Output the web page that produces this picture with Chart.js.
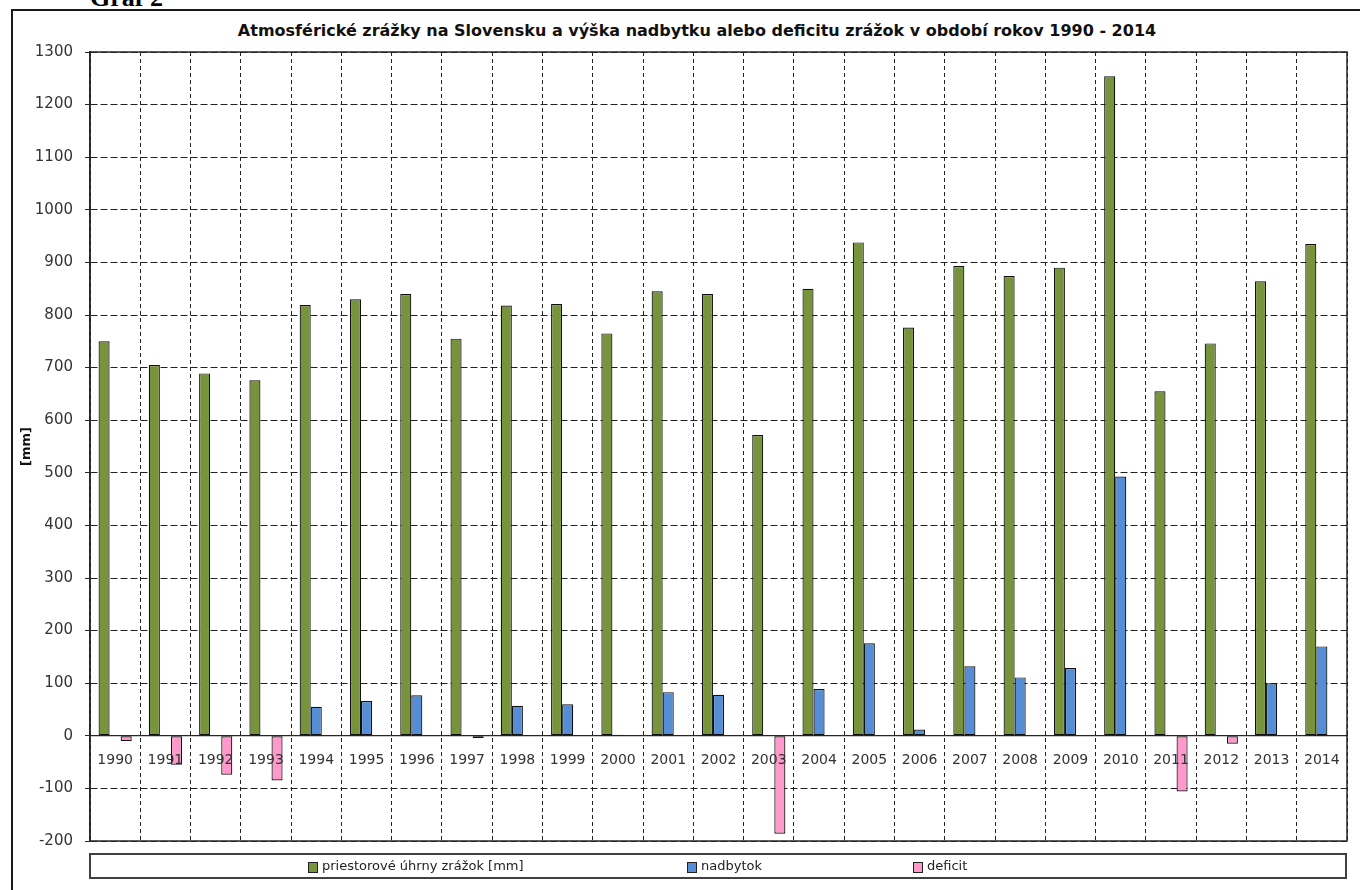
<!DOCTYPE html>
<html lang="sk">
<head>
<meta charset="utf-8">
<title>Atmosférické zrážky na Slovensku 1990 - 2014</title>
<script src="https://cdn.jsdelivr.net/npm/chart.js@4/dist/chart.umd.min.js"></script>
<style>
  html, body { margin: 0; padding: 0; background: #fff; overflow: hidden; }
  body { width: 1360px; height: 890px; position: relative; font-family: "DejaVu Sans", sans-serif; }
  #graf-nadpis { position: absolute; left: 90px; top: -15px; font: bold 26px/26px "Liberation Serif", serif; color: #000; white-space: nowrap; }
  #ram { position: absolute; left: 11px; top: 9px; width: 1400px; height: 1000px; border: 2px solid #1a1a1a; box-sizing: border-box; }
  #nazov { position: absolute; left: 0; top: 21px; width: 1394px; text-align: center; font: bold 16px/19px "DejaVu Sans", sans-serif; color: #111; white-space: nowrap; }
  #wrap { position: absolute; left: 0; top: 0; width: 1360px; height: 890px; }
  #legenda { position: absolute; left: 89px; top: 853px; width: 1258px; height: 26px; border: 2px solid #404040; box-sizing: border-box; }
  .lg-box { position: absolute; width: 8px; height: 9px; border: 1px solid #222; box-sizing: content-box; }
  .lg-text { position: absolute; font: 13px/18px "DejaVu Sans", sans-serif; color: #222; white-space: nowrap; }
</style>
</head>
<body>
<div id="graf-nadpis">Graf 2</div>
<div id="ram"></div>
<div id="nazov">Atmosférické zrážky na Slovensku a výška nadbytku alebo deficitu zrážok v období rokov 1990 - 2014</div>
<div id="wrap"><canvas id="graf"></canvas></div>
<div id="legenda"></div>
<script>
// Roky a hodnoty zrážok v mm
const roky = ['1990','1991','1992','1993','1994','1995','1996','1997','1998','1999','2000','2001','2002','2003','2004','2005','2006','2007','2008','2009','2010','2011','2012','2013','2014'];
const uhrny = [750, 705, 689, 676, 819, 830, 840, 755, 818, 821, 765, 845, 840, 572, 850, 938, 776, 893, 874, 890, 1254, 655, 746, 864, 935];
const nadbytok = [null, null, null, null, 55, 66, 77, null, 57, 60, 2, 83, 78, null, 89, 176, 12, 132, 111, 129, 493, null, null, 100, 170];
const deficit = [-10, -55, -74, -85, null, null, null, -4, null, null, null, null, null, -186, null, null, null, null, null, null, null, -106, -15, null, null];

// Rozsah osi y
const osYMin = -200;
const osYMax = 1300;
const osYKrok = 100;

// Názvy radov
const nazvyRadov = ['priestorové úhrny zrážok [mm]', 'nadbytok', 'deficit'];
const farbyRadov = ['#77933C', '#558ED5', '#FF99CC'];

// Rám okolo plochy grafu
const ramPlochy = {
  id: 'ramPlochy',
  afterDatasetsDraw(chart) {
    const a = chart.chartArea;
    const ctx = chart.ctx;
    ctx.save();
    ctx.strokeStyle = '#262626';
    ctx.lineWidth = 1.5;
    ctx.strokeRect(a.left, a.top, a.right - a.left, a.bottom - a.top);
    ctx.restore();
  }
};

const pismo = '"DejaVu Sans", sans-serif';

const graf = new Chart(document.getElementById('graf'), {
  type: 'bar',
  data: {
    labels: roky,
    datasets: [uhrny, nadbytok, deficit].map((hodnoty, i) => ({
      label: nazvyRadov[i],
      data: hodnoty,
      backgroundColor: farbyRadov[i],
      borderColor: '#111',
      borderWidth: 1.2,
      borderSkipped: false,
      categoryPercentage: 0.66,
      barPercentage: 1.0
    }))
  },
  options: {
    responsive: true,
    maintainAspectRatio: false,
    animation: false,
    layout: { padding: { left: 12, right: 13, top: 52, bottom: 49 } },
    plugins: {
      legend: { display: false },
      title: { display: false },
      tooltip: { enabled: false }
    },
    scales: {
      x: {
        type: 'category',
        position: { y: 0 },
        grid: {
          color: '#222',
          lineWidth: 1,
          offset: true,
          drawTicks: false
        },
        border: { display: true, color: '#262626', width: 1.2, dash: [4, 3] },
        ticks: {
          z: 1,
          padding: 16,
          color: '#333',
          maxRotation: 0,
          autoSkip: false,
          font: { family: pismo, size: 14 }
        }
      },
      y: {
        min: osYMin,
        max: osYMax,
        afterFit(scale) { scale.width = 78; },
        grid: {
          color: '#222',
          lineWidth: 1,
          tickLength: 5,
          tickColor: '#262626',
          tickBorderDash: []
        },
        border: { display: true, color: '#262626', width: 1.5, dash: [7, 3] },
        ticks: {
          stepSize: osYKrok,
          padding: 12,
          color: '#333',
          font: { family: pismo, size: 15 },
          callback: (hodnota) => String(hodnota)
        },
        title: {
          display: true,
          text: '[mm]',
          color: '#111',
          padding: { top: 7, bottom: 0 },
          font: { family: pismo, size: 13, weight: 'bold' }
        }
      }
    }
  },
  plugins: [ramPlochy]
});

// Legenda pod grafom
const legenda = document.getElementById('legenda');
const polohyLegendy = [306, 685, 911];
graf.data.datasets.forEach((ds, i) => {
  const box = document.createElement('div');
  box.className = 'lg-box';
  box.style.left = (polohyLegendy[i] - 89) + 'px';
  box.style.top = '7px';
  box.style.background = ds.backgroundColor;
  legenda.appendChild(box);
  const txt = document.createElement('div');
  txt.className = 'lg-text';
  txt.style.left = (polohyLegendy[i] - 89 + 14) + 'px';
  txt.style.top = '2px';
  txt.textContent = ds.label;
  legenda.appendChild(txt);
});
</script>
</body>
</html>
